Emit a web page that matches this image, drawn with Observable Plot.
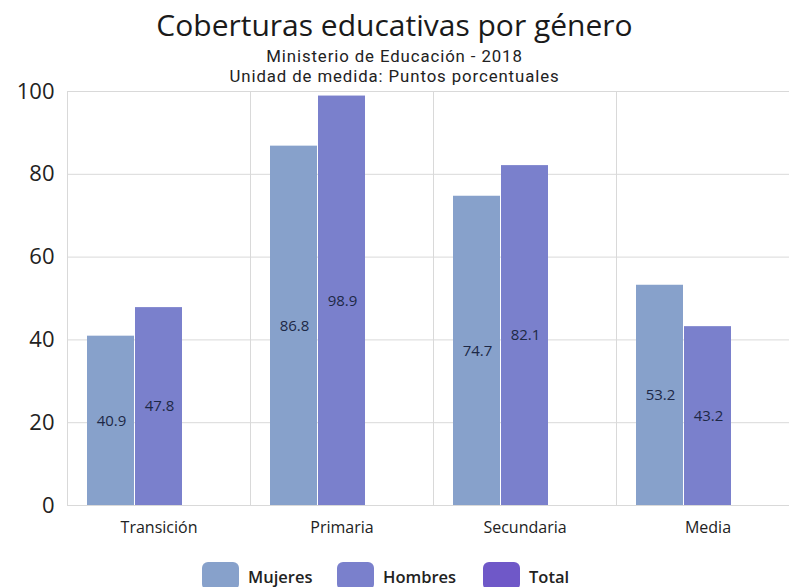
<!DOCTYPE html>
<html>
<head>
<meta charset="utf-8">
<script src="https://cdn.jsdelivr.net/npm/d3@7"></script>
<script src="https://cdn.jsdelivr.net/npm/@observablehq/plot@0.6"></script>
<style>
  html, body { margin: 0; padding: 0; background: #fff; overflow: hidden; width: 789px; height: 587px; }
  body { font-family: "Open Sans", "Noto Sans", sans-serif; color: #222; position: relative; }
  .hd { position: absolute; left: 0; width: 789px; text-align: center; white-space: nowrap; }
  #title { top: 6px; font-size: 30px; line-height: 38px; color: #1a1a1a; }
  .sub { font-family: Roboto, "Open Sans", sans-serif; font-size: 16.8px; line-height: 20px; letter-spacing: 0.9px; color: #222; }
  #sub1 { top: 46px; }
  #sub2 { top: 66px; }
  #chart { position: absolute; left: 0; top: 66px; width: 800px; }
  #chart svg { max-width: none !important; }
  #legend { position: absolute; left: 0; top: 562px; width: 789px; height: 30px; }
  .item { position: absolute; top: 0; display: flex; align-items: center; font-size: 16.5px; font-weight: 600; color: #222; }
  .sw { width: 37px; height: 28px; border-radius: 6px; margin-right: 9px; }
</style>
</head>
<body>
<div id="title" class="hd">Coberturas educativas por género</div>
<div id="sub1" class="hd sub">Ministerio de Educación - 2018</div>
<div id="sub2" class="hd sub">Unidad de medida: Puntos porcentuales</div>
<div id="chart"></div>
<div id="legend"></div>
<script>
const niveles = ["Transición", "Primaria", "Secundaria", "Media"];
const series = ["Mujeres", "Hombres", "Total"];
const mujeres = [40.9, 86.8, 74.7, 53.2];
const hombres = [47.8, 98.9, 82.1, 43.2];
const colores = ["#87a1cb", "#7a80cc", "#6f58c8"];
const yTicks = [0, 20, 40, 60, 80, 100];

const rows = [];
niveles.forEach((n, i) => {
  rows.push({nivel: n, serie: "Mujeres", valor: mujeres[i]});
  rows.push({nivel: n, serie: "Hombres", valor: hombres[i]});
});

const plot = Plot.plot({
  width: 800,
  height: 479,
  marginTop: 25,
  marginBottom: 40,
  marginLeft: 66,
  marginRight: 0,
  style: {fontFamily: "'Open Sans', 'Noto Sans', sans-serif", background: "transparent"},
  fx: {domain: niveles, padding: 0, label: null},
  x: {domain: series, padding: 0, paddingOuter: 0.38, axis: null},
  y: {domain: [0, 100], label: null},
  color: {domain: series, range: colores},
  marks: [
    Plot.gridY(yTicks, {stroke: "#d9d9d9", strokeOpacity: 1}),
    Plot.frame({stroke: "#d9d9d9", strokeOpacity: 1}),
    Plot.barY(rows, {fx: "nivel", x: "serie", y: "valor", fill: "serie", insetLeft: 0, insetRight: 1}),
    Plot.text(rows, {fx: "nivel", x: "serie", y: d => d.valor / 2, text: d => d.valor.toFixed(1), fontSize: 15, fill: "#1d2846"}),
    Plot.axisY(yTicks, {tickSize: 0, tickPadding: 13, fontSize: 22, label: null, color: "#222"}),
    Plot.axisFx({anchor: "bottom", tickSize: 0, tickPadding: 16, fontSize: 16, label: null, color: "#222"})
  ]
});
document.getElementById("chart").appendChild(plot);

const lefts = [202, 337, 483];
const legend = document.getElementById("legend");
series.forEach((s, i) => {
  const it = document.createElement("div");
  it.className = "item";
  it.style.left = lefts[i] + "px";
  const sw = document.createElement("div");
  sw.className = "sw";
  sw.style.background = colores[i];
  const t = document.createElement("span");
  t.textContent = s;
  it.appendChild(sw);
  it.appendChild(t);
  legend.appendChild(it);
});
</script>
</body>
</html>
